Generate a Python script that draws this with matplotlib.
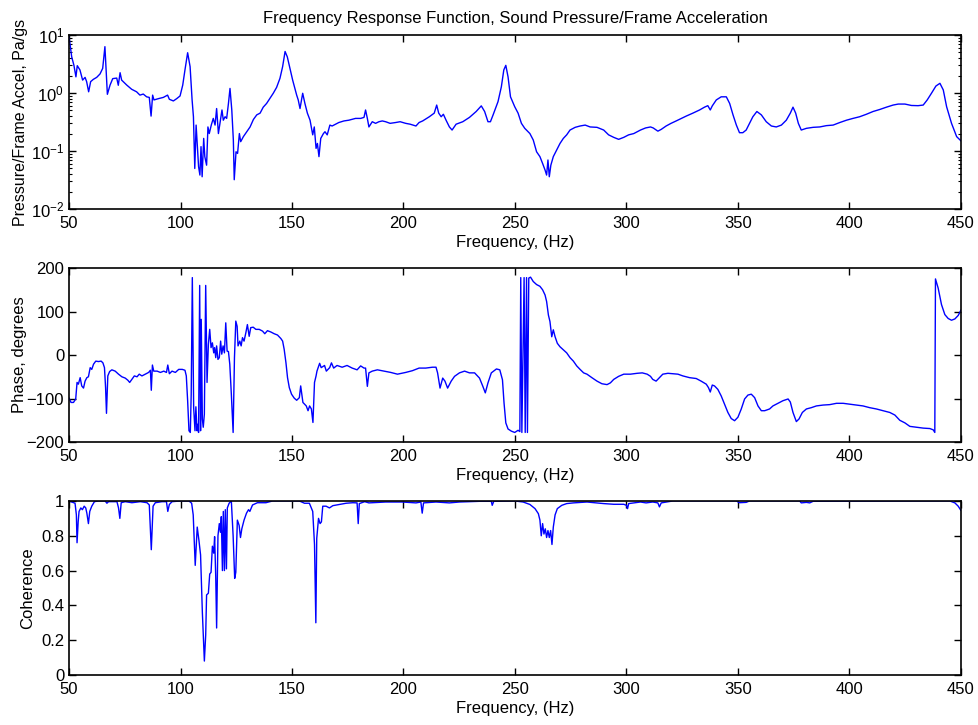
import math
import matplotlib
matplotlib.use("Agg")
import matplotlib.pyplot as plt
from matplotlib.ticker import FixedLocator, FuncFormatter, LogLocator, NullFormatter

plt.rcParams['font.family'] = ['Liberation Sans', 'DejaVu Sans']
plt.rcParams['font.size'] = 12

# FRF magnitude (Pa/gs)
mag_freq = [50.0, 51.2, 52.2, 53.1, 53.7, 54.9, 56.1, 57.2, 57.9, 58.8, 59.7, 60.9, 62.4, 63.9, 65.1,
            66.1, 67.2, 68.4, 69.6, 71.4, 72.1, 72.9, 73.6, 75.9, 78.1, 80.3, 81.8, 83.3, 84.8, 86.0,
            86.8, 87.5, 88.1, 90.1, 92.3, 94.2, 95.0, 96.8, 98.3, 99.8, 101.0, 102.0, 103.2, 104.3,
            105.2, 105.8, 106.4, 107.0, 107.5, 108.1, 108.7, 109.2, 109.7, 110.4, 110.9, 111.7, 112.3,
            112.9, 113.8, 114.7, 115.5, 116.2, 117.0, 117.7, 118.6, 119.2, 120.0, 120.7, 121.5, 122.2,
            123.0, 123.7, 124.1, 124.9, 125.6, 126.4, 127.0, 128.2, 129.7, 131.2, 132.7, 134.2, 135.7,
            137.1, 138.6, 140.1, 141.6, 143.1, 144.6, 145.8, 146.9, 147.9, 149.1, 150.3, 151.3, 152.1,
            152.8, 153.6, 154.8, 155.8, 156.9, 158.1, 159.3, 160.0, 160.8, 161.4, 162.1, 162.9, 164.1,
            164.8, 165.8, 167.0, 168.0, 169.5, 171.0, 173.3, 175.5, 178.5, 180.8, 182.3, 183.0, 183.8,
            184.5, 186.0, 187.5, 189.0, 190.5, 192.0, 194.0, 196.5, 198.5, 201.0, 203.0, 205.6, 207.0,
            208.6, 211.6, 213.8, 214.9, 215.8, 216.9,
            217.9, 219.1, 220.6, 221.8, 223.6, 226.6, 229.6, 232.6, 234.9, 236.4, 237.9, 239.0, 240.2,
            242.4, 243.9, 245.0, 245.9, 246.9, 248.0, 249.9, 251.4, 252.9, 254.4, 256.7, 258.2, 259.7,
            261.2, 262.4, 263.5, 264.2, 264.8, 265.4, 266.1, 267.2, 268.7, 270.2, 271.7, 273.2, 274.7,
            277.0, 279.2, 281.5, 283.7, 286.8, 289.8, 292.0, 294.3, 296.5, 298.8, 301.0, 303.3, 306.3,
            308.6, 310.8, 312.0, 314.1, 315.6, 317.8, 320.0, 322.3, 324.6, 326.8, 329.8, 332.8, 335.0,
            336.5, 337.6, 338.5, 340.3, 342.5, 344.8, 346.3, 347.8, 349.3, 350.7, 352.2, 353.7, 355.2,
            356.7, 358.5, 360.5, 362.7, 365.0, 367.2, 369.5, 371.7, 373.5, 374.7, 375.9, 377.1, 378.4,
            380.7, 383.7, 386.7, 389.7, 392.7, 395.7, 398.7, 401.6, 404.6, 407.6, 410.6, 413.6, 416.6,
            419.6, 421.9, 424.9, 427.8, 430.8, 433.1, 434.9, 436.8, 438.8, 440.6, 442.1, 443.6, 445.8,
            448.1, 450.0]
mag_vals = [9.4, 4.2, 3.0, 1.9, 2.96, 2.5, 1.67, 1.86, 1.57, 1.05, 1.57, 1.72, 1.86, 2.13, 2.66,
            6.3, 0.95, 1.37, 1.77, 1.81, 1.36, 2.24, 1.67, 1.37, 1.16, 1.05, 0.92, 0.96, 0.86, 0.84,
            0.40, 0.92, 0.76, 0.80, 0.84, 0.92, 0.78, 0.73, 0.80, 0.89, 1.37, 2.5, 4.95, 2.85,
            0.76, 0.39, 0.050, 0.28, 0.135, 0.054, 0.0385, 0.119, 0.036, 0.165, 0.080, 0.057, 0.26,
            0.20, 0.28, 0.365, 0.28, 0.54, 0.20, 0.30, 0.51, 0.34, 0.39, 0.365, 0.66, 1.2,
            0.51, 0.155, 0.032, 0.097, 0.091, 0.20, 0.145, 0.177, 0.215, 0.26, 0.35, 0.42, 0.45,
            0.57, 0.66, 0.81, 0.99, 1.25, 1.79, 2.85, 5.2, 4.2, 2.66, 1.67, 1.2, 0.92,
            0.76, 0.54, 0.99, 0.66, 0.45, 0.34, 0.19, 0.26, 0.111, 0.135, 0.080, 0.165, 0.20,
            0.215, 0.19, 0.28, 0.27, 0.29, 0.31, 0.33, 0.34, 0.365, 0.365, 0.38, 0.51, 0.365,
            0.26, 0.32, 0.30, 0.32, 0.33, 0.32, 0.30, 0.31, 0.32, 0.30, 0.29, 0.27, 0.31,
            0.33, 0.39, 0.45, 0.62, 0.45, 0.39,
            0.43, 0.34, 0.26, 0.23, 0.29, 0.32, 0.38, 0.48, 0.60, 0.48, 0.32, 0.32, 0.42,
            0.71, 1.28, 2.5, 3.0, 1.9, 0.86, 0.58, 0.45, 0.30, 0.246, 0.20, 0.155, 0.097,
            0.080, 0.061, 0.047, 0.0385, 0.070, 0.036, 0.057, 0.080, 0.104, 0.135, 0.165, 0.19, 0.23,
            0.256, 0.27, 0.28, 0.26, 0.256, 0.23, 0.19, 0.172, 0.159, 0.172, 0.19, 0.20, 0.23,
            0.25, 0.26, 0.25, 0.22, 0.236, 0.27, 0.30, 0.33, 0.365, 0.40, 0.45, 0.51, 0.57,
            0.605, 0.51, 0.60, 0.76, 0.86, 0.86, 0.66, 0.42, 0.28, 0.207, 0.207, 0.23, 0.30,
            0.39, 0.48, 0.42, 0.32, 0.27, 0.26, 0.28, 0.34, 0.45, 0.57, 0.45, 0.30, 0.23,
            0.246, 0.256, 0.26, 0.274, 0.28, 0.31, 0.34, 0.365, 0.39, 0.43, 0.48, 0.52, 0.57,
            0.62, 0.645, 0.645, 0.61, 0.605, 0.62, 0.76, 0.99, 1.32, 1.47, 1.13, 0.58, 0.30,
            0.177, 0.15]

# phase (degrees)
ph_freq = [50.0, 50.9, 52.0, 53.0, 53.6, 54.2, 55.0, 55.7, 56.5, 57.2, 58.0, 58.7, 59.5, 60.2, 61.0,
           62.0, 63.2, 64.4, 65.2, 65.9, 66.4, 66.8, 67.4, 68.2, 69.2, 70.7, 72.2, 73.7, 75.2, 76.4,
           77.2, 78.2, 79.3, 80.5, 81.5, 82.7, 84.2, 85.7, 86.5, 86.9, 87.4, 88.0, 89.5, 91.0, 92.5,
           93.7, 94.3, 95.0, 96.2, 97.7, 99.2, 100.8, 102.0, 102.6, 103.2, 103.8, 104.4, 104.8, 105.3,
           105.9, 106.5, 106.9, 107.4, 107.8, 108.1, 108.6, 109.0, 109.3, 109.8, 110.2, 110.7, 111.3,
           111.9, 112.5, 113.1, 113.7, 114.3, 114.9, 115.3, 115.8, 116.2, 116.8, 117.4, 118.0, 118.5,
           119.1, 119.7, 120.3, 120.9, 121.5, 122.1, 122.8, 123.6, 124.2, 124.8, 125.4, 125.8, 126.6,
           127.2, 127.8, 128.5, 129.3, 130.0, 130.8, 131.5, 132.6, 133.8, 135.3, 136.8, 137.8, 139.0,
           140.5, 142.0, 143.5, 145.0, 145.8, 146.5, 147.3, 148.0, 148.8, 149.8, 151.0, 152.1, 153.3,
           153.9, 154.9, 156.4, 157.2, 157.9, 158.7, 159.4, 160.1, 160.8, 161.2, 162.4, 163.1, 164.6,
           165.4, 166.9, 167.7, 168.7, 170.2, 172.5, 174.7, 177.0, 179.2, 180.8, 182.3, 183.0, 183.8,
           184.5, 186.0, 188.3, 191.3, 194.3, 197.3, 201.0, 204.0, 207.0, 210.0, 213.0, 214.6, 215.3,
           216.4, 217.6, 218.6, 219.8, 221.4, 222.9, 225.1, 227.4, 229.6, 231.9, 234.1, 235.6, 236.7,
           237.9, 239.4, 241.7, 243.2, 244.4, 245.1, 245.9, 246.9, 248.4, 249.9, 251.4, 252.2, 252.6,
           253.1, 254.1, 254.6, 255.2, 255.6, 256.2, 257.0, 258.2, 259.7, 261.2, 262.4, 263.5, 264.2,
           265.0, 265.7, 266.5, 267.2, 268.0, 269.0, 270.2, 271.7, 273.2, 274.7, 276.2, 277.7, 279.2,
           280.8, 282.3, 284.5, 286.8, 289.0, 291.3, 292.8, 294.3, 296.5, 298.8, 301.8, 304.8, 307.1,
           309.3, 310.8, 311.8, 313.3, 314.8, 316.3, 318.6, 320.8, 323.1, 325.3, 328.3, 331.3, 333.5,
           335.8, 336.8, 337.6, 338.5, 339.5, 341.0, 342.5, 344.0, 345.5, 347.0, 348.5, 350.0, 351.5,
           353.0, 354.5, 356.0, 357.5, 359.0, 360.5, 362.0, 364.2, 365.7, 368.0, 370.2, 372.5, 373.5,
           374.7, 376.2, 377.4, 378.9, 380.7, 382.9, 385.2, 388.2, 391.2, 394.2, 397.2, 400.1, 403.1,
           406.1, 409.1, 412.1, 415.1, 418.1, 420.4, 422.6, 424.9, 427.1, 430.1, 433.1, 436.1, 437.6,
           438.3, 438.6, 439.8, 441.3, 442.8, 444.3, 445.8, 447.3, 448.8, 450.0]
ph_vals = [-99, -109, -109, -101, -63, -67, -52, -71, -76, -60, -52, -50, -29, -33, -21,
           -14, -15, -14, -18, -29, -75, -134, -48, -38, -34, -37, -44, -50, -53, -58,
           -63, -56, -48, -50, -44, -48, -44, -40, -35, -81, -23, -37, -37, -40, -37,
           -40, -23, -43, -37, -40, -33, -33, -35, -48, -105, -174, -178, -90, 178,
           -121, -174, -119, -174, -159, -178, 160, -174, 82, -147, -166, -136, 160,
           -63, 24, 59, 17, 28, 5, 17, -6, 21, -10, -6, 32, 2,
           21, 5, 74, 9, 8, -21, -90, -178, -6, 78, 66, 21, 32,
           21, 40, 32, 51, 70, 43, 63, 64, 59, 59, 55, 49, 56,
           53, 49, 46, 38, 32, 13, -18, -52, -75, -90, -99, -104, -98,
           -71, -109, -117, -128, -117, -124, -155, -63, -48, -37, -19, -29, -24,
           -37, -29, -18, -30, -24, -28, -24, -30, -34, -25, -30, -30, -72,
           -41, -37, -34, -37, -40, -44, -40, -36, -30, -30, -28, -28, -41,
           -76, -53, -60, -76, -60, -49, -41, -37, -41, -41, -53, -72, -87,
           -64, -41, -32, -34, -57, -110, -156, -170, -175, -178, -173, -176, 178,
           -178, 178, -178, 178, -178, 177, 179, 169, 162, 158, 150, 138, 123,
           92, 77, 42, 58, 42, 27, 19, 12, 5, -6, -14, -25, -33,
           -41, -44, -52, -60, -66, -68, -64, -56, -49, -44, -44, -42, -41,
           -44, -49, -56, -60, -52, -44, -42, -43, -44, -48, -52, -54, -60,
           -67, -75, -85, -69, -71, -79, -94, -113, -132, -146, -151, -143, -124,
           -101, -92, -90, -98, -117, -128, -128, -124, -117, -111, -105, -101, -108,
           -132, -153, -147, -132, -124, -121, -117, -115, -114, -111, -111, -113, -115,
           -117, -121, -124, -128, -132, -138, -150, -156, -164, -166, -168, -169, -172,
           -178, 175, 154, 116, 93, 84, 80, 83, 91, 103]

# coherence
coh_freq = [50.0, 52.0, 52.7, 53.3, 53.6, 54.1, 54.5, 55.3, 56.0, 56.8, 57.5, 58.0, 58.7, 59.3, 60.2,
            61.4, 63.2, 66.2, 67.0, 67.7, 71.5, 72.2, 72.8, 73.4, 75.2, 78.2, 82.0, 85.0, 86.0, 86.9,
            87.7, 88.7, 91.7, 93.7, 94.3, 95.0, 96.2, 100.0, 103.8, 105.0, 105.7, 106.6, 107.5, 108.3,
            109.0, 109.8, 110.7, 111.3, 111.7, 112.5, 113.1, 113.7, 114.3, 114.9, 115.3, 115.8, 116.2,
            116.8, 117.4, 117.9, 118.3, 118.8, 119.2, 119.7, 120.1, 120.6, 121.0, 121.8, 122.8, 123.6,
            124.3, 124.8, 125.5, 126.3, 126.9, 127.5, 128.5, 129.6, 130.5, 131.1, 132.3, 134.5, 138.3,
            141.3, 153.3, 155.6, 157.8, 159.3, 160.1, 160.7, 161.1, 161.9, 162.6, 163.2, 163.8, 165.3,
            166.8, 168.3, 171.3, 174.3, 177.3, 179.2, 179.7, 180.2, 182.6, 184.5, 192.0, 199.5, 205.6,
            207.8, 208.4, 209.0, 214.6, 220.6, 225.1, 234.1, 239.4, 239.8, 240.5, 250.0, 253.7, 256.7,
            259.0, 260.5, 261.2, 261.8, 262.4, 263.0, 263.6, 264.2, 264.8, 265.4, 266.0, 266.6, 267.2,
            268.0, 269.0, 271.0, 273.2, 276.2, 282.3, 289.8, 294.3, 298.8, 300.0, 300.5, 301.0, 306.3,
            308.8, 311.8, 314.1, 314.8, 315.6, 320.8, 349.3, 350.7, 353.7, 355.2, 377.7, 378.4, 380.7,
            382.2, 383.7, 445.0, 447.3, 448.8, 450.0]
coh_vals = [1.0, 0.99, 0.987, 0.92, 0.76, 0.88, 0.94, 0.96, 0.95, 0.97, 0.96, 0.93, 0.87, 0.94, 0.97,
            0.996, 1.0, 1.0, 0.987, 0.996, 0.996, 0.96, 0.90, 0.99, 0.996, 0.99, 0.996, 0.99, 0.977, 0.72,
            0.97, 0.99, 0.996, 0.996, 0.94, 0.98, 0.996, 1.0, 1.0, 0.987, 0.92, 0.63, 0.85, 0.77,
            0.69, 0.36, 0.08, 0.23, 0.46, 0.47, 0.58, 0.59, 0.74, 0.70, 0.795, 0.565, 0.27,
            0.80, 0.87, 0.82, 0.91, 0.60, 0.94, 0.60, 0.95, 0.61, 0.96, 0.987, 1.0, 0.80,
            0.555, 0.59, 0.89, 0.86, 0.79, 0.84, 0.89, 0.93, 0.95, 0.94, 0.977, 0.99, 0.99,
            1.0, 1.0, 0.987, 0.987, 0.94, 0.75, 0.30, 0.785, 0.90, 0.87, 0.88, 0.97, 0.97,
            0.96, 0.973, 0.98, 0.987, 0.99, 0.989, 0.87, 0.985, 0.996, 0.989, 0.994, 0.994, 0.989,
            0.994, 0.93, 0.989, 0.994, 0.989, 0.994, 0.998, 0.998, 0.975, 0.998, 1.0, 0.994, 0.98,
            0.956, 0.927, 0.89, 0.80, 0.87, 0.81, 0.84, 0.79, 0.83, 0.79, 0.83, 0.75, 0.85,
            0.92, 0.956, 0.975, 0.985, 0.989, 0.994, 0.985, 0.981, 0.981, 0.975, 0.956, 0.985, 0.994,
            0.989, 0.994, 0.989, 0.966, 0.989, 1.0, 1.0, 0.99, 0.992, 1.0, 1.0, 0.989, 0.992,
            0.989, 0.998, 1.0, 0.989, 0.97, 0.946]

x_ticks = [50, 100, 150, 200, 250, 300, 350, 400, 450]
line_color = '#0000ff'


def style_axes(ax):
    ax.set_xlim(50, 450)
    ax.xaxis.set_major_locator(FixedLocator(x_ticks))
    ax.tick_params(which='both', direction='in', top=True, right=True, labelsize=12)
    ax.tick_params(which='major', length=5, width=1)
    ax.tick_params(which='minor', length=2.5, width=0.8)
    ax.tick_params(axis='x', pad=5)
    for s in ax.spines.values():
        s.set_linewidth(1.2)
    ax.set_xlabel('Frequency, (Hz)', fontsize=12, labelpad=3)


fig = plt.figure(figsize=(9.79, 7.25), dpi=100)

# magnitude
ax1 = fig.add_axes([0.0705, 0.7117, 0.911, 0.24])
ax1.semilogy(mag_freq, mag_vals, color=line_color, linewidth=1.0)
ax1.set_ylim(0.01, 10)
ax1.yaxis.set_major_locator(LogLocator(base=10, numticks=10))
ax1.yaxis.set_minor_locator(LogLocator(base=10, subs=range(2, 10), numticks=20))
ax1.yaxis.set_minor_formatter(NullFormatter())
ax1.yaxis.set_major_formatter(FuncFormatter(
    lambda v, p: r'$\mathregular{10^{%d}}$' % round(math.log10(v))))
style_axes(ax1)
ax1.set_ylabel('Pressure/Frame Accel, Pa/gs', fontsize=11.5, labelpad=2)
ax1.set_title('Frequency Response Function, Sound Pressure/Frame Acceleration', fontsize=12, pad=9)

# phase
ax2 = fig.add_axes([0.0705, 0.3903, 0.911, 0.24])
ax2.plot(ph_freq, ph_vals, color=line_color, linewidth=1.0)
ax2.set_ylim(-200, 200)
ax2.yaxis.set_major_locator(FixedLocator([-200, -100, 0, 100, 200]))
style_axes(ax2)
ax2.set_ylabel('Phase, degrees', fontsize=12, labelpad=0)

# coherence
ax3 = fig.add_axes([0.0705, 0.069, 0.911, 0.24])
ax3.plot(coh_freq, coh_vals, color=line_color, linewidth=1.0)
ax3.set_ylim(0, 1)
ax3.yaxis.set_major_locator(FixedLocator([0, 0.2, 0.4, 0.6, 0.8, 1.0]))
ax3.yaxis.set_major_formatter(FuncFormatter(lambda v, p: '%g' % v))
style_axes(ax3)
ax3.set_ylabel('Coherence', fontsize=12, labelpad=4)

fig.savefig('out.png', dpi=100)
